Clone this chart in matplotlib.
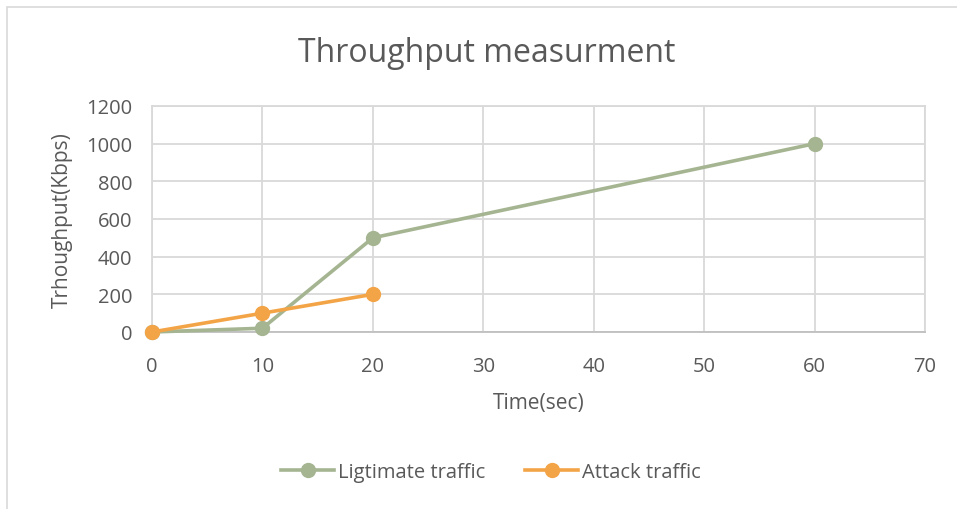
import matplotlib.pyplot as plt
from matplotlib.patches import Rectangle

# Data
time_legit = [0, 10, 20, 60]
throughput_legit = [0, 20, 500, 1000]
time_attack = [0, 10, 20]
throughput_attack = [0, 100, 200]

x_ticks = [0, 10, 20, 30, 40, 50, 60, 70]
y_ticks = [0, 200, 400, 600, 800, 1000, 1200]

text_color = '#595959'
grid_color = '#D9D9D9'
green = '#A5B592'
orange = '#F3A447'

plt.rcParams['font.family'] = ['Open Sans', 'DejaVu Sans']

fig = plt.figure(figsize=(9.57, 5.10), dpi=100)
ax = fig.add_axes([152 / 957, 1 - 333 / 510, (925 - 152) / 957, (333 - 107) / 510])

# chart border (Excel chart area)
fig.patches.append(Rectangle((7 / 957, -0.1), 1.2, 1 - 8 / 510 + 0.1,
                             transform=fig.transFigure, fill=False,
                             edgecolor='#D9D9D9', linewidth=1.2))

ax.plot(time_legit, throughput_legit, color=green, linewidth=2.6,
        marker='o', markersize=10, label='Ligtimate traffic', zorder=3, clip_on=False)
ax.plot(time_attack, throughput_attack, color=orange, linewidth=2.6,
        marker='o', markersize=10, label='Attack traffic', zorder=4, clip_on=False)

ax.set_xlim(0, 70)
ax.set_ylim(0, 1200)
ax.set_xticks(x_ticks)
ax.set_yticks(y_ticks)
ax.grid(True, color=grid_color, linewidth=1.3)
ax.set_axisbelow(True)
for side in ['top', 'right', 'left']:
    ax.spines[side].set_color(grid_color)
    ax.spines[side].set_linewidth(1.3)
ax.spines['bottom'].set_color('#BFBFBF')
ax.spines['bottom'].set_linewidth(1.3)
ax.tick_params(length=0, labelsize=14.5, colors=text_color)
ax.tick_params(axis='x', pad=17)
ax.tick_params(axis='y', pad=14)

ax.set_xlabel('Time(sec)', fontsize=15, color=text_color, labelpad=12)
ax.set_ylabel('Trhoughput(Kbps)', fontsize=15, color=text_color, labelpad=10)
fig.text(487 / 957, 1 - 53 / 510, 'Throughput measurment',
         fontsize=23, color=text_color, ha='center', va='center')

fig.legend(loc='center', bbox_to_anchor=(491 / 957, 1 - 473 / 510), ncol=2,
           frameon=False, fontsize=14.5, labelcolor=text_color, handlelength=2.6,
           handletextpad=0.2, columnspacing=2.0)

plt.savefig('out.png', dpi=100)
